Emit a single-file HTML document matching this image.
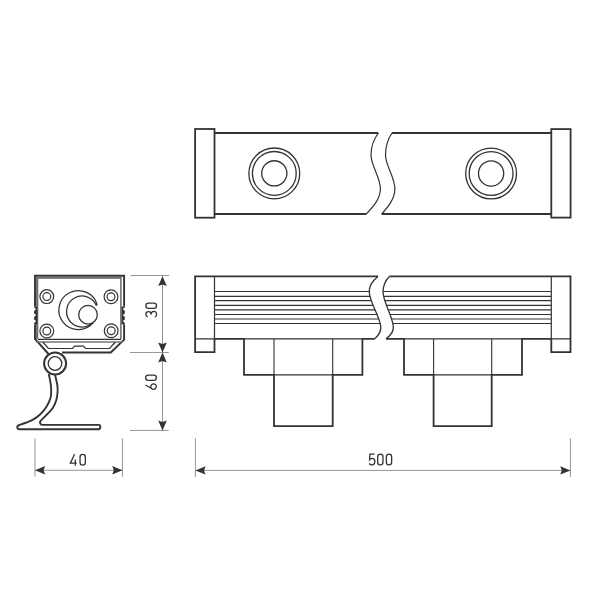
<!DOCTYPE html>
<html><head><meta charset="utf-8">
<style>
html,body{margin:0;padding:0;background:#fff;width:600px;height:600px;overflow:hidden}
svg{display:block}
text{font-family:"Liberation Sans",sans-serif;fill:#333}
</style></head>
<body>
<svg width="600" height="600" viewBox="0 0 600 600">
<rect width="600" height="600" fill="#fff"/>
<g fill="none" stroke="#333" stroke-linejoin="miter" stroke-linecap="butt">
<!-- ===== TOP VIEW ===== -->
<rect x="195.1" y="129" width="19.4" height="88.7" stroke-width="1.8"/>
<rect x="551.3" y="129.1" width="19.3" height="88.5" stroke-width="1.8"/>
<path d="M214.5,133 H378.3 M392,133 H551.3 M214.5,214 H366.3 M381.7,214 H551.3" stroke-width="1.8"/>
<path d="M378.3,133 C372.5,141 371,148 371,155 C371,166 380.5,177 380.4,189 C380.3,199 373,207 366.3,214" stroke-width="1.2"/>
<path d="M392,133 C386.5,141 385.5,148 385.5,155 C385.5,166 395,177 394.9,189 C394.8,199 388,207 381.7,214" stroke-width="1.2"/>
<g stroke-width="1.3">
<circle cx="274.3" cy="173.4" r="25.4"/><circle cx="274.3" cy="173.4" r="21.9"/><circle cx="274.3" cy="173.35" r="12.6"/>
<circle cx="491.1" cy="173.5" r="25.4"/><circle cx="491.1" cy="173.5" r="21.9"/><circle cx="491.1" cy="173.45" r="12.6"/>
</g>
<!-- ===== FRONT VIEW ===== -->
<path d="M214.5,338.85 V352.2 H195.1 V276.45 H378 M389.3,276.45 H570.5 V352.2 H551.3 V338.85" stroke-width="1.8"/>
<path d="M214.5,276.45 V338.85 M195.1,338.85 H214.5 M551.3,276.45 V338.85 M551.3,338.85 H570.5" stroke-width="1.2"/>
<path d="M214.5,338.85 H244 V374.9 H274 V426.1 H332.7 V374.9 H362.4 V338.85 H374.7 M386,338.85 H404 V374.9 H433.6 V426.1 H491.7 V374.9 H522 V338.85 H551.3" stroke-width="1.8"/>
<path d="M244,338.85 H362.4 M274,338.85 V374.9 H332.7 V338.85 M404,338.85 H522 M433.6,338.85 V374.9 H491.7 V338.85" stroke-width="1.1"/>
<path d="M378,276.45 C372,281 369,286 369.3,292 C369.6,302 379,315 380.7,326 C381.5,332 378,336 374.7,338.85" stroke-width="1.3"/>
<path d="M389.3,276.45 C385,281 383,286 383,292 C383.3,302 392,315 393.3,326 C394,332 390,336 386,338.85" stroke-width="1.3"/>
<g stroke-width="1.15" id="grooves">
<path d="M214.5,291.5 H369.3 M214.5,296.3 H369.9 M214.5,300.6 H371.2 M214.5,305.3 H373.1 M214.5,309.9 H375.1 M214.5,314.5 H377.1 M214.5,319.0 H378.8 M214.5,323.5 H380.2"/>
<path d="M383.0,291.5 H551.3 M383.5,296.3 H551.3 M384.7,300.6 H551.3 M386.5,305.3 H551.3 M388.3,309.9 H551.3 M390.1,314.5 H551.3 M391.7,319.0 H551.3 M392.9,323.5 H551.3"/>
</g>
<!-- ===== SIDE VIEW ===== -->
<path d="M35,306.5 V275.8 H124.1 V306.5 M124.1,324.5 V339.6 L110.8,352.5 H62 M48.5,354 L35,339 V324.5" stroke-width="1.9"/>
<path d="M37.2,339 V277.6 H120.5" stroke="#6a6a6a" stroke-width="2.2"/>
<path d="M120.9,277 V339" stroke="#444" stroke-width="1.2"/>
<path d="M37.9,339.4 H121" stroke-width="1.3"/>
<path d="M36,342 H123" stroke="#777" stroke-width="1.3"/>
<path d="M42.8,342 L48.4,348.5 H72.5 L74.5,346.2 H83.5 L85.5,348.5 H109.6 L115.4,342" stroke-width="1.2"/>
<g stroke-width="1.2">
<circle cx="46.8" cy="296.6" r="6.9"/><circle cx="46.8" cy="296.6" r="3.9"/>
<circle cx="46.8" cy="331" r="6.9"/><circle cx="46.8" cy="331" r="3.9"/>
<circle cx="111" cy="296.8" r="6.9"/><circle cx="111" cy="296.8" r="3.9"/>
<circle cx="111.2" cy="330.7" r="6.9"/><circle cx="111.2" cy="330.7" r="3.9"/>
</g>
<g stroke-width="1.25">
<path d="M97.14,304.73 A19.5,19.5 0 1 0 93.34,322.63"/>
<path d="M97.3,304.6 Q96.8,304.9 96.2,305.2 A15.5,15.5 0 1 0 92,323.4"/>
<circle cx="88" cy="314.7" r="9.3"/>
</g>
<!-- notches -->
<path d="M34.1,306.5 H37.2 V324.5 H34.1 V323 L36.1,321 L34.1,319.5 V317 L36.1,315 L34.1,313.5 V311 L36.1,309 L34.1,307.5 Z" fill="#333" stroke="none"/>
<path d="M124.8,306.5 H121.6 V324.5 H124.8 V323 L122.8,321 L124.8,319.5 V317 L122.8,315 L124.8,313.5 V311 L122.8,309 L124.8,307.5 Z" fill="#333" stroke="none"/>
<!-- pivot -->
<circle cx="55.1" cy="363.5" r="11" stroke-width="2"/>
<circle cx="55" cy="363.5" r="6.8" stroke-width="1.3"/>
<!-- stand -->
<path d="M48.70,374.00 C48.98,375.33 49.98,379.33 50.40,382.00 C50.82,384.67 51.18,387.33 51.20,390.00 C51.22,392.67 51.32,395.17 50.50,398.00 C49.68,400.83 48.00,404.28 46.30,407.00 C44.60,409.72 42.52,412.18 40.30,414.30 C38.08,416.42 35.55,418.25 33.00,419.70 C30.45,421.15 27.25,422.12 25.00,423.00 C22.75,423.88 20.42,424.67 19.50,425.00 C16.5,425.9 16.5,429.3 19.8,429.3 L98.5,429.3 C100.9,429.3 100.9,424.9 98.5,424.9 L43,424.9 C40.2,424.9 39.2,422.5 40.6,420.8 C41.17,420.23 42.85,418.55 44.00,417.40 C45.15,416.25 46.07,415.43 47.50,413.90 C48.93,412.37 51.17,410.38 52.60,408.20 C54.03,406.02 55.27,403.50 56.10,400.80 C56.93,398.10 57.40,394.63 57.60,392.00 C57.80,389.37 57.73,387.92 57.30,385.00 C56.87,382.08 55.38,376.25 55.00,374.50" stroke-width="1.9"/>
</g>
<!-- ===== DIMENSIONS ===== -->
<g fill="none" stroke="#959595" stroke-width="1">
<path d="M162.5,276 V430.4 M130.5,275.5 H169 M130,352.5 H168.8 M130,430.4 H168.8"/>
<path d="M35,438.4 V476.6 M122.4,438.4 V476.6 M35,470.3 H122.4"/>
<path d="M195.4,438.3 V477 M570.4,438.3 V477 M195.4,470.4 H570.4"/>
</g>
<g fill="#333" stroke="none">
<!-- vertical arrows -->
<path d="M162.5,276.2 L166.8,286.0 L162.5,284.4 L158.2,286.0 Z"/>
<path d="M162.5,352.5 L166.8,342.5 L162.5,344.1 L158.2,342.5 Z"/>
<path d="M162.5,352.5 L166.8,362.5 L162.5,360.9 L158.2,362.5 Z"/>
<path d="M162.5,430.4 L166.8,420.4 L162.5,422.0 L158.2,420.4 Z"/>
<path d="M35.0,470.3 L45.2,466.1 L43.6,470.3 L45.2,474.5 Z"/>
<path d="M122.4,470.3 L112.2,466.1 L113.8,470.3 L112.2,474.5 Z"/>
<path d="M195.4,470.4 L205.6,466.2 L204.0,470.4 L205.6,474.6 Z"/>
<path d="M570.4,470.4 L560.2,466.2 L561.8,470.4 L560.2,474.6 Z"/>
</g>
<g fill="none" stroke="#333" stroke-width="1.3">
<g transform="translate(69.7 465.7)"><path d="M4.9,-11.5 L0.6,-2.55 H7.1 M5.6,-6.3 V0"/><path transform="translate(9.7 0)" d="M0.65,-8.7 A2.65,2.65 0 0 1 5.95,-8.7 V-3.3 A2.65,2.65 0 0 1 0.65,-3.3 Z"/></g>
<g transform="translate(368.6 465.5)"><path d="M6.0,-11.35 H1.3 L1.0,-5.9 C1.7,-6.8 2.6,-7.2 3.6,-7.2 C5.3,-7.2 6.3,-5.9 6.3,-3.9 C6.3,-1.9 5.1,-0.65 3.4,-0.65 C2.2,-0.65 1.2,-1.1 0.5,-2.0"/><path transform="translate(8.4 0)" d="M0.65,-8.7 A2.65,2.65 0 0 1 5.95,-8.7 V-3.3 A2.65,2.65 0 0 1 0.65,-3.3 Z"/><path transform="translate(17.1 0)" d="M0.65,-8.7 A2.65,2.65 0 0 1 5.95,-8.7 V-3.3 A2.65,2.65 0 0 1 0.65,-3.3 Z"/></g>
<g transform="translate(157.2 317.6) rotate(-90)"><path d="M0.8,-9.4 C1.3,-10.8 2.3,-11.35 3.4,-11.35 C4.9,-11.35 5.9,-10.3 5.9,-8.7 C5.9,-7.1 4.8,-6.1 3.1,-6.1 C5.2,-6.1 6.3,-4.9 6.3,-3.3 C6.3,-1.6 5,-0.65 3.4,-0.65 C2.1,-0.65 1.1,-1.2 0.5,-2.2"/><path transform="translate(8.6 0)" d="M0.65,-8.7 A2.65,2.65 0 0 1 5.95,-8.7 V-3.3 A2.65,2.65 0 0 1 0.65,-3.3 Z"/></g>
<g transform="translate(157 390) rotate(-90)"><path d="M5.0,-11.5 L1.0,-4.6 M6.2,-3.45 A2.8,2.8 0 1 1 0.6,-3.45 A2.8,2.8 0 1 1 6.2,-3.45 Z"/><path transform="translate(9.0 0)" d="M0.65,-8.7 A2.65,2.65 0 0 1 5.95,-8.7 V-3.3 A2.65,2.65 0 0 1 0.65,-3.3 Z"/></g>
</g>
</svg>
</body></html>
